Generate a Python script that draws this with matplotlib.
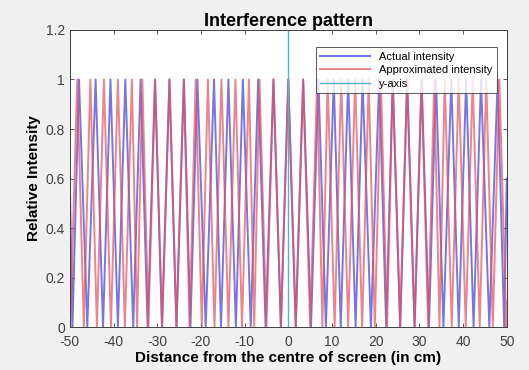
import matplotlib
matplotlib.use("Agg")
import matplotlib.pyplot as plt

# peak (y=1) and trough (y=0) positions, in cm
actual_peaks = [-47.9, -44.1, -40.7, -37.3, -33.8, -30.5, -27.2, -23.9, -20.8, -17.0,
                -13.7, -10.4, -6.9, -3.4, 0.0, 3.4, 6.9, 10.4, 13.7, 17.0, 20.8,
                23.9, 27.2, 30.5, 33.8, 37.3, 40.7, 44.1, 47.9]
actual_troughs = [-49.4, -46.0, -42.4, -39.0, -35.5, -32.2, -28.9, -25.6, -22.4, -18.9,
                  -15.4, -12.0, -8.6, -5.2, -1.7, 1.7, 5.2, 8.6, 12.0, 15.4, 18.9,
                  22.4, 25.6, 28.9, 32.2, 35.5, 39.0, 42.4, 46.0, 49.4]
actual_ends = [0.6, 0.6]   # value at x=-50 and x=50

approx_peaks = [-48.3, -45.3, -42.2, -39.0, -35.8, -33.4, -30.5, -27.2, -23.9, -21.2,
                -18.4, -15.3, -12.1, -9.0, -6.6, -3.4, 0.0, 3.4, 6.6, 9.0, 12.1, 15.3,
                18.4, 21.2, 23.9, 27.2, 30.5, 33.4, 35.8, 39.0, 42.2, 45.3, 48.3]
approx_troughs = [-49.9, -46.8, -43.8, -40.6, -37.4, -34.6, -32.0, -28.9, -25.6, -22.6,
                  -19.8, -16.9, -13.7, -10.6, -7.8, -5.0, -1.7, 1.7, 5.0, 7.8, 10.6,
                  13.7, 16.9, 19.8, 22.6, 25.6, 28.9, 32.0, 34.6, 37.4, 40.6, 43.8,
                  46.8, 49.9]
approx_ends = [0.1, 0.1]


def build(peaks, troughs, ends):
    """Joins peaks and troughs into one sorted line, with the end values at +-50."""
    pts = [(x, 1.0) for x in peaks] + [(x, 0.0) for x in troughs]
    pts += [(-50.0, ends[0]), (50.0, ends[1])]
    pts.sort()
    return [p[0] for p in pts], [p[1] for p in pts]


ax_x, ax_y = build(actual_peaks, actual_troughs, actual_ends)
ap_x, ap_y = build(approx_peaks, approx_troughs, approx_ends)

plt.rcParams['font.family'] = ['Liberation Sans', 'DejaVu Sans']
plt.rcParams['axes.unicode_minus'] = False

fig = plt.figure(figsize=(5.29, 3.70), dpi=100, facecolor='#f0f0f0')
ax = fig.add_axes([0.132, 0.116, 0.826, 0.803])

ax.plot(ax_x, ax_y, color='#4848e0', alpha=0.75, lw=1.4, label='Actual intensity')
ax.plot(ap_x, ap_y, color='#e8505a', alpha=0.7, lw=1.4, label='Approximated intensity')
ax.plot([0, 0], [0, 1.2], color='#4fb3cf', lw=1.0, label='y-axis')

ax.set_xlim(-50, 50)
ax.set_ylim(0, 1.2)
ax.set_xticks(range(-50, 51, 10))
ax.set_yticks([0, 0.2, 0.4, 0.6, 0.8, 1, 1.2])
ax.set_yticklabels(['0', '0.2', '0.4', '0.6', '0.8', '1', '1.2'])
ax.tick_params(direction='in', top=True, right=True, labelsize=10, colors='#404040',
               length=3, width=0.6)
ax.tick_params(axis='x', pad=6)
for s in ax.spines.values():
    s.set_color('#404040')
    s.set_linewidth(0.7)

ax.set_title('Interference pattern', fontsize=13, fontweight='bold', pad=3)
ax.set_xlabel('Distance from the centre of screen (in cm)', fontsize=11,
              fontweight='bold', labelpad=1)
ax.set_ylabel('Relative Intensity', fontsize=11, fontweight='bold', labelpad=3)

leg = ax.legend(loc='upper right', fontsize=8, frameon=True, fancybox=False,
                edgecolor='#303030', handlelength=4.5, borderpad=0.4,
                labelspacing=0.3, bbox_to_anchor=(0.99, 0.96))
leg.get_frame().set_linewidth(0.7)

fig.savefig('out.png', dpi=100, facecolor=fig.get_facecolor())
